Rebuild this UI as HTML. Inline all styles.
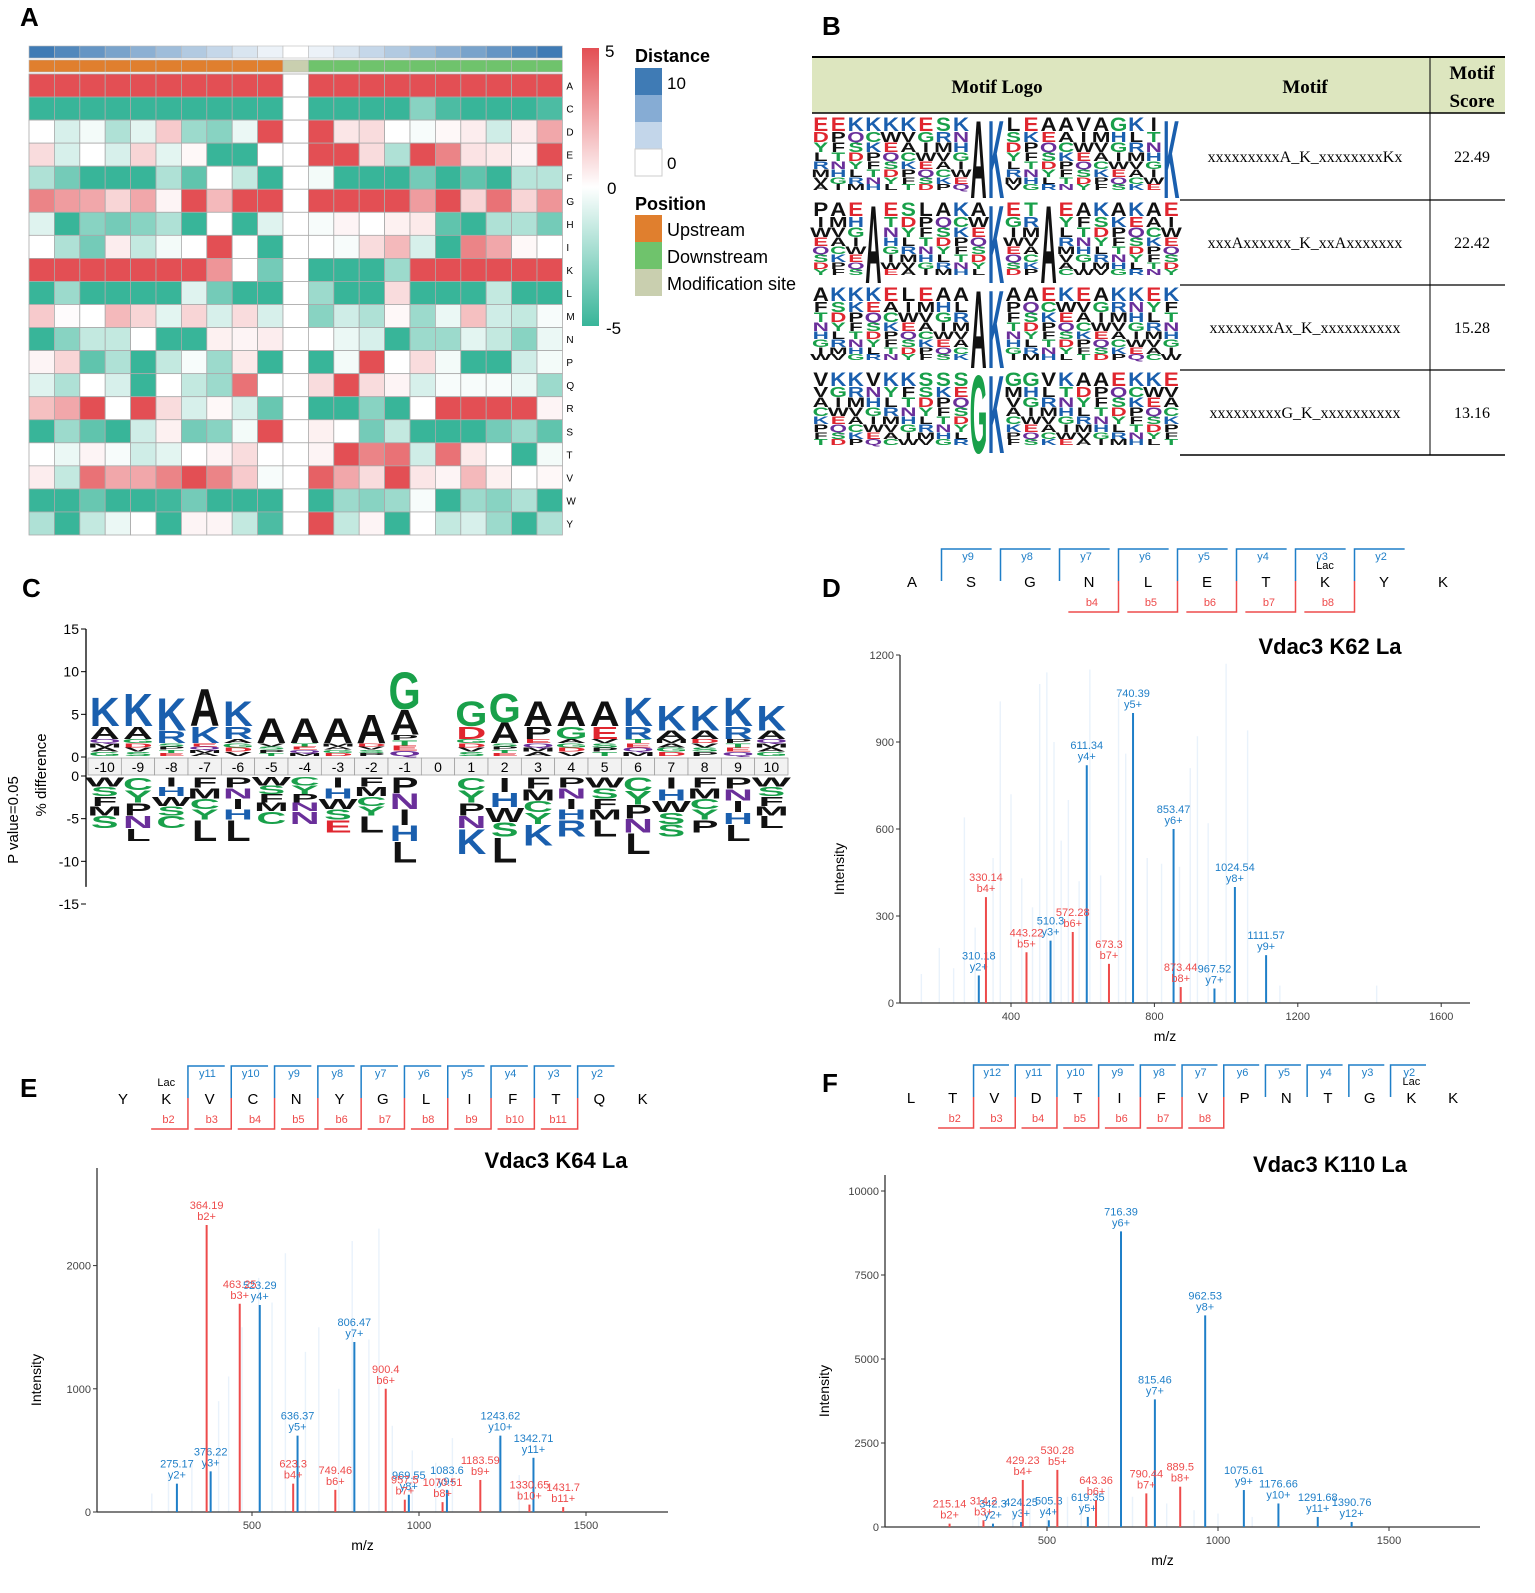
<!DOCTYPE html>
<html><head><meta charset="utf-8"><style>
html,body{margin:0;padding:0;background:#fff;}
svg{display:block;font-family:"Liberation Sans",sans-serif;}
.srf{font-family:"Liberation Serif",serif;}
</style></head><body>
<svg id="fig" width="1535" height="1593" viewBox="0 0 1535 1593" xmlns="http://www.w3.org/2000/svg">
<g font-weight="bold" font-size="26">
<text x="20" y="26">A</text>
<text x="822" y="35">B</text>
<text x="22" y="597">C</text>
<text x="822" y="597">D</text>
<text x="20" y="1097">E</text>
<text x="822" y="1092">F</text>
</g>
<g id="heat"></g>
<g id="heatlegend">
<defs><linearGradient id="cg" x1="0" y1="0" x2="0" y2="1"><stop offset="0" stop-color="#e34f54"/><stop offset="0.5" stop-color="#ffffff"/><stop offset="1" stop-color="#38b599"/></linearGradient></defs>
<rect x="582" y="48" width="17" height="278" fill="url(#cg)"/>
<text x="605" y="57" font-size="17">5</text>
<text x="607" y="194" font-size="17">0</text>
<text x="606" y="334" font-size="17">-5</text>
<text x="635" y="62" font-size="18" font-weight="bold">Distance</text>
<rect x="635" y="68" width="27" height="27" fill="#3f7bb5"/><rect x="635" y="95" width="27" height="27" fill="#86acd4"/><rect x="635" y="122" width="27" height="27" fill="#c3d6ea"/><rect x="635" y="149" width="27" height="27" fill="#fff" stroke="#ccc"/>
<text x="667" y="89" font-size="17">10</text>
<text x="667" y="169" font-size="17">0</text>
<text x="635" y="210" font-size="18" font-weight="bold">Position</text>
<rect x="635" y="215" width="27" height="27" fill="#e07f2e"/>
<rect x="635" y="242" width="27" height="27" fill="#6fc36c"/>
<rect x="635" y="269" width="27" height="27" fill="#c9cfaf"/>
<text x="667" y="236" font-size="18">Upstream</text>
<text x="667" y="263" font-size="18">Downstream</text>
<text x="667" y="290" font-size="18">Modification site</text>
</g>
<g id="tableB">
<rect x="812" y="57" width="693" height="56" fill="#dde6bf"/>
<line x1="812" y1="57" x2="1505" y2="57" stroke="#000" stroke-width="2"/>
<line x1="812" y1="113" x2="1505" y2="113" stroke="#000" stroke-width="1.5"/>
<line x1="1180" y1="200" x2="1505" y2="200" stroke="#000" stroke-width="1.2"/>
<line x1="1180" y1="285" x2="1505" y2="285" stroke="#000" stroke-width="1.2"/>
<line x1="1180" y1="370" x2="1505" y2="370" stroke="#000" stroke-width="1.2"/>
<line x1="1180" y1="455" x2="1505" y2="455" stroke="#000" stroke-width="1.5"/>
<line x1="1430" y1="57" x2="1430" y2="455" stroke="#000" stroke-width="1"/>
<g class="srf" font-weight="bold" font-size="19" text-anchor="middle">
<text x="997" y="93">Motif Logo</text>
<text x="1305" y="93">Motif</text>
<text x="1472" y="79">Motif</text>
<text x="1472" y="107">Score</text>
</g>
<g class="srf" font-size="16" text-anchor="middle">
<text x="1305" y="162">xxxxxxxxxA_K_xxxxxxxxKx</text>
<text x="1472" y="162">22.49</text>
<text x="1305" y="248">xxxAxxxxxx_K_xxAxxxxxxx</text>
<text x="1472" y="248">22.42</text>
<text x="1305" y="333">xxxxxxxxAx_K_xxxxxxxxxx</text>
<text x="1472" y="333">15.28</text>
<text x="1305" y="418">xxxxxxxxxG_K_xxxxxxxxxx</text>
<text x="1472" y="418">13.16</text>
</g>
<g id="logosB"></g>
</g>
<g id="panelC"></g>
<g id="panelD"></g>
<g id="panelE"></g>
<g id="panelF"></g>
</svg>
<script>
const NS="http://www.w3.org/2000/svg";
// ---------- heatmap data ----------
const heatRows=["A","C","D","E","F","G","H","I","K","L","M","N","P","Q","R","S","T","V","W","Y"];
const distanceVals=[10,9,8,7,6,5,4,3,2,1,0,1,2,3,4,5,6,7,8,9,10];
const positionVals=["U","U","U","U","U","U","U","U","U","U","M","D","D","D","D","D","D","D","D","D","D"];
const heatA=[5,5,5,5,5,5,5,5,5,5,0,5,5,5,5,5,5,5,5,5,5];
const heatC=[-5,-5,-5,-5,-5,-5,-5,-5,-5,-5,0,-5,-5,-5,-5,-3,-4.5,-5,-5,-5,-4.5];
const heatD=[0,-1,-0.3,-2,-0.7,1.5,-2.5,-3,-0.5,5,0,5,0.7,1,0,-0.2,0.2,0.5,-1.2,0.5,2.5];
const heatE=[1,-1,0,-1,1.2,-0.7,0.2,-5,-5,0,0,5,5,1,-2,5,3.5,0.8,0.6,0.3,5];
const heatF=[-2,-3.5,-5,-5,-5,-2,-4,0,-1.5,-5,0,-0.3,-5,-5,-5,-3.5,-5,-4,-5,-1.8,-1.8];
const heatG=[3.5,2.8,2.5,1.2,2.5,0.3,5,2,5,5,0,5,5,5,5,2.8,5,1.2,4,1.2,3];
const heatH=[-0.8,-5,-3,-3.5,-3,-2,-5,0,-5,-0.8,0,-0.2,0.3,0,0.4,0.6,-4,-5,-2,-2,-3.5];
const heatI=[0,-2,-3.5,0.5,-1.5,-0.3,0,5,0,-5,0,0,-0.2,1,2,-1,-5,3.5,2.5,0.2,0];
const heatK=[5,5,5,5,5,5,5,3,0,-3.5,0,-5,-5,-5,-2.5,5,5,5,5,5,5];
const heatL=[-5,-2.5,-5,-5,-5,-5,-0.8,-3.5,-5,-5,0,-2.5,-5,-5,1,-5,-5,-5,-1.5,-5,-5];
const heatM=[1.5,0.1,0,2,1.2,-0.7,1.2,-1,1,-1,0,-3,-1.2,-2,0.2,-2.5,-0.5,1.8,-1.2,-1.5,-0.2];
const heatN=[-5,-3,-1.5,-1.5,0,-5,-5,0.4,0.3,0.5,0,0,-0.5,-1,-5,-2.5,-2.5,-0.7,-1.5,-3,-0.5];
const heatP=[0.3,1.2,-4,-2,-5,-1.5,-0.2,-2.5,0.6,-5,0,-5,-0.3,5,0,1,-0.3,-5,-5,-1.2,-0.3];
const heatQ=[-0.8,-2,0,-1,-5,0,-1.5,-2.5,4,0,0,1,5,1,0.3,-1,-0.2,-0.2,-0.2,-0.5,-2.5];
const heatR=[1.8,2.5,5,0,5,1,-1,0.2,-1,-3.8,0,-5,-5,-3,-5,0,5,5,5,5,0.3];
const heatS=[-5,-2.5,-4,-5,-1.2,0.4,-3.5,-3,-0.3,5,0,0.4,0,-3.5,-1.5,-5,-5,-5,-3.5,-2.5,-4];
const heatT=[0,-0.5,0.3,-0.2,-1.2,-0.7,0,0.3,1,0,0,0.3,5,3.5,4,-1.2,4,0.6,0,-5,-0.3];
const heatV=[0.5,-1.5,4,2.5,2.5,3.5,5,3.5,1.5,-0.2,0,4.5,2.5,1,5,0.7,0.3,2,0.4,0,0.2];
const heatW=[-5,-5,-3.8,-5,-5,-4.8,-3.5,-5,-5,-5,0,-5,-2.5,-3,-2.5,-0.2,-5,-2.5,-3,-2,-5];
const heatY=[-2,-5,-1.5,-0.5,0,-5,0.3,0.3,-1.5,-4.5,0,5,-1.5,0.3,-5,0,-1.5,-1,-2.5,-5,-2];
const heatVals=[heatA,heatC,heatD,heatE,heatF,heatG,heatH,heatI,heatK,heatL,heatM,heatN,heatP,heatQ,heatR,heatS,heatT,heatV,heatW,heatY];

// ---------- panel C data ----------
const cPositions=["-10","-9","-8","-7","-6","-5","-4","-3","-2","-1","0","1","2","3","4","5","6","7","8","9","10"];
const cUpTop=["K","K","K","A","K","A","A","A","A","G","","G","G","A","A","A","K","K","K","K","K"];
const cUpTopH=[3.5,4,4,4.5,3,3,3,3,3.5,4.5,0,3,3.5,3,3,3,3.5,3,3,3.5,3];
const cUpSecond=["A","A","R","K","R","","","","","A","","D","A","P","G","E","R","A","A","R","A"];
const cUpSecondH=[1.5,1.5,1.5,2,1.5,0,0,0,0,3,0,1.5,2.5,1.5,1.5,1.5,1.5,1,1,1.5,1];
const cUpFill=[2,2,1.5,1.5,2,1.5,1.5,1.5,1.5,2.5,0,2,1.5,2,2,2,2,2,2,2,2];
const cLoBottom=["S","L","C","L","L","C","N","E","L","L","","K","L","K","R","L","L","S","P","L","L"];
const cLoBottomH=[1.5,1.5,1.5,2.5,2.5,1.5,1.5,1.5,2,2.5,0,3,3,2.5,2,2,2.5,1.5,1.5,2,1.5];
const cLoDepth=[6,7.5,6,7.5,7.5,5.5,5.5,6.5,6.5,10,0,9,10,8,7,7,9,7,6.5,7.5,6];

// ---------- spectra data ----------
const dMz=[310.18,510.3,611.34,740.39,853.47,967.52,1024.54,1111.57,330.14,443.22,572.28,673.3,873.44];
const dInt=[95,215,820,1000,600,50,400,165,365,175,245,135,55];
const dLab1=["310.18","510.3","611.34","740.39","853.47","967.52","1024.54","1111.57","330.14","443.22","572.28","673.3","873.44"];
const dLab2=["y2+","y3+","y4+","y5+","y6+","y7+","y8+","y9+","b4+","b5+","b6+","b7+","b8+"];
const dType=["y","y","y","y","y","y","y","y","b","b","b","b","b"];
const dNoiseMz=[150,200,240,270,300,350,370,400,430,460,480,500,520,540,560,590,620,650,700,720,780,820,870,900,920,950,1000,1060,1150,1420];
const dNoiseInt=[100,190,120,640,260,500,1040,720,430,330,1100,1140,900,560,700,420,1150,440,1050,860,500,480,470,810,920,620,1170,940,60,60];

const eMz=[275.17,376.22,523.29,636.37,806.47,969.55,1083.6,1243.62,1342.71,364.19,463.25,623.3,749.46,900.4,957.5,1070.51,1183.59,1330.65,1431.7];
const eInt=[230,330,1680,620,1380,140,180,620,440,2330,1690,230,180,1000,100,80,260,60,40];
const eLab1=["275.17","376.22","523.29","636.37","806.47","969.55","1083.6","1243.62","1342.71","364.19","463.25","623.3","749.46","900.4","957.5","1070.51","1183.59","1330.65","1431.7"];
const eLab2=["y2+","y3+","y4+","y5+","y7+","y8+","y9+","y10+","y11+","b2+","b3+","b4+","b6+","b6+","b7+","b8+","b9+","b10+","b11+"];
const eType=["y","y","y","y","y","y","y","y","y","b","b","b","b","b","b","b","b","b","b"];
const eNoiseMz=[200,250,320,400,430,470,520,560,600,660,700,760,800,850,880,920,980,1050,1100,1240,1300];
const eNoiseInt=[150,300,400,900,1100,1500,1900,1700,2100,1300,1500,1000,2200,1400,2300,700,500,400,600,600,300];

const fMz=[716.39,962.53,815.46,1075.61,1176.66,1291.68,1390.76,505.3,619.35,342,424.25,215.14,314.2,429.23,530.28,643.36,790.44,889.5];
const fInt=[8800,6300,3800,1100,700,300,150,200,300,100,150,100,200,1400,1700,800,1000,1200];
const fLab1=["716.39","962.53","815.46","1075.61","1176.66","1291.68","1390.76","505.3","619.35","342.3","424.25","215.14","314.2","429.23","530.28","643.36","790.44","889.5"];
const fLab2=["y6+","y8+","y7+","y9+","y10+","y11+","y12+","y4+","y5+","y2+","y3+","b2+","b3+","b4+","b5+","b6+","b7+","b8+"];
const fType=["y","y","y","y","y","y","y","y","y","y","y","b","b","b","b","b","b","b"];
const fNoiseMz=[300,400,450,500,560,600,680,750,850,930,1000,1100];
const fNoiseInt=[300,500,700,600,900,800,1200,900,700,500,400,300];

function mk(tag,attrs,parent,txt){const e=document.createElementNS(NS,tag);for(const k in attrs)e.setAttribute(k,attrs[k]);if(txt!==undefined)e.textContent=txt;parent.appendChild(e);return e;}

// ---------- heatmap ----------
(function(){
const g=document.getElementById('heat');
const x0=29,cw=25.4,y0=74,rh=23.05;
function heatColor(v){
  const t=Math.min(1,Math.abs(v)/5);
  const c=v>=0?[227,79,84]:[56,181,153];
  const r=Math.round(255+(c[0]-255)*t),gg=Math.round(255+(c[1]-255)*t),b=Math.round(255+(c[2]-255)*t);
  return `rgb(${r},${gg},${b})`;
}
function distColor(d){const t=d/10;return `rgb(${Math.round(255+(63-255)*t)},${Math.round(255+(123-255)*t)},${Math.round(255+(181-255)*t)})`;}
distanceVals.forEach((d,i)=>{const r=mk('rect',{x:x0+i*cw,y:46,width:cw,height:12,fill:distColor(d),stroke:'#bbb','stroke-width':0.6},g);

});
positionVals.forEach((p,i)=>{const r=mk('rect',{x:x0+i*cw,y:60,width:cw,height:12,fill:p==='U'?'#e07f2e':p==='D'?'#6fc36c':'#c9cfaf',stroke:'#bbb','stroke-width':0.6},g);

});
heatVals.forEach((row,ri)=>{
  row.forEach((v,ci)=>{const r=mk('rect',{x:x0+ci*cw,y:y0+ri*rh,width:cw,height:rh,fill:heatColor(v),stroke:'#aaa','stroke-width':0.8},g);
  
  });
  const t=mk('text',{x:x0+21*cw+4,y:y0+ri*rh+rh/2+4,'font-size':10},g,heatRows[ri]);
  
  
});
})();

// ---------- letter helpers ----------
const LCOL={K:'#1a5fae',R:'#1a5fae',H:'#1a5fae',D:'#e0262f',E:'#e0262f',G:'#19a04a',S:'#19a04a',T:'#19a04a',Y:'#19a04a',C:'#19a04a',N:'#6a2f9a',Q:'#6a2f9a'};
function letter(parent,ch,cx,yb,w,h){
  if(h<=0.5)return;
  const t=mk('text',{transform:`translate(${cx},${yb}) scale(${w/7.4},${h/7.3})`,'text-anchor':'middle','font-size':10,'font-weight':'bold',fill:LCOL[ch]||'#111'},parent,ch);
  
  
  return t;
}

// ---------- panel B logos ----------
(function(){
const g=document.getElementById('logosB');
const rows=["EEKKKKESKAKLEAAVAGKIK","PAEAESLAKAKETAEAKAKAE","AKKKELEAAAKAAEKEAKKEK","VKKVKKSSSGKGGVKAAEKKE"];
const big=[[9,10,20],[3,10,13],[9,10],[9,10]];
const filler="SLVKTGEDRAPNIQYMCFHW";
const y0s=[115,200,285,370];
rows.forEach((s,ri)=>{
  const top=y0s[ri]+2,bot=y0s[ri]+83,cw=368/21;
  for(let c=0;c<21;c++){
    const cx=812+cw*c+cw/2;
    if(big[ri].includes(c)){letter(g,s[c],cx,bot,cw*0.95,bot-top);continue;}
    let y=top;const hs=[14,11,10,9,8,8,7,6];
    letter(g,s[c],cx,y+hs[0],cw*0.95,hs[0]);y+=hs[0];
    for(let k=1;k<hs.length&&y<bot;k++){const ch=filler[(c*3+k*7+ri*5)%20];const h=Math.min(hs[k],bot-y);letter(g,ch,cx,y+h,cw*0.95,h);y+=h;}
  }
});
})();

// ---------- panel C ----------
(function(){
const g=document.getElementById('panelC');
const ax=86,upBase=757,loBase=776,pu=128/15;
const yUp=v=>upBase-v*pu, yLo=v=>loBase+v*pu;
mk('line',{x1:ax,y1:yUp(15),x2:ax,y2:yLo(13),stroke:'#000','stroke-width':1.3},g);
[15,10,5,0].forEach(v=>{mk('line',{x1:ax-5,y1:yUp(v),x2:ax,y2:yUp(v),stroke:'#000'},g);const t=mk('text',{x:ax-7,y:yUp(v)+5,'text-anchor':'end','font-size':14},g,String(v));});
[0,5,10,13].forEach((v,i)=>{const lab=["0","-5","-10","-15"][i];mk('line',{x1:ax-5,y1:yLo(v*(i===3?15/13:1)),x2:ax,y2:yLo(v*(i===3?15/13:1)),stroke:'#000'},g);const t=mk('text',{x:ax-7,y:yLo(v*(i===3?15/13:1))+5,'text-anchor':'end','font-size':14},g,lab);});
const t1=mk('text',{transform:'translate(18,820) rotate(-90)','font-size':15,'text-anchor':'middle'},g,'P value=0.05');
const t2=mk('text',{transform:'translate(46,775) rotate(-90)','font-size':15,'text-anchor':'middle'},g,'% difference');
const x0=88,cw=700/21;
const filler="GSEAVTMDPQ";const lofill="WNCSIYFHPM";
cPositions.forEach((p,i)=>{
  const cx=x0+cw*i+cw/2;
  const b=mk('rect',{x:x0+cw*i,y:upBase+1,width:cw,height:loBase-upBase-2,fill:'#f2f2f2',stroke:'#999','stroke-width':0.7},g);
  
  const t=mk('text',{x:cx,y:upBase+15,'text-anchor':'middle','font-size':14},g,p);
  if(!cUpTop[i])return;
  let y=upBase-1;
  const fillH=cUpFill[i]*pu;const nf=4;
  for(let k=0;k<nf;k++){const h=fillH/nf;letter(g,filler[(i+k*3)%10],cx,y,cw*0.92,h);y-=h;}
  if(cUpSecondH[i]>0){const h=cUpSecondH[i]*pu;letter(g,cUpSecond[i],cx,y,cw*0.92,h);y-=h;}
  const h=cUpTopH[i]*pu;letter(g,cUpTop[i],cx,y,cw*0.92,h);
  let yl=loBase+1;const depth=cLoDepth[i]*pu,bh=cLoBottomH[i]*pu;const rem=depth-bh;const nl=4;
  for(let k=0;k<nl;k++){const hh=rem/nl;letter(g,lofill[(i*2+k*3)%10],cx,yl+hh,cw*0.92,hh);yl+=hh;}
  letter(g,cLoBottom[i],cx,yl+bh,cw*0.92,bh);
});
})();

// ---------- spectra ----------
function spectrum(id,cfg){
  const g=document.getElementById(id);
  const X=v=>cfg.xA+(v-cfg.xv0)*cfg.xs, Y=v=>cfg.y0-v*cfg.ys;
  cfg.nMz.forEach((m,i)=>{const l=mk('line',{x1:X(m),y1:cfg.y0,x2:X(m),y2:Y(cfg.nInt[i]),stroke:'#e9f2fb','stroke-width':1.4},g);});
  mk('line',{x1:cfg.ax,y1:cfg.yTop,x2:cfg.ax,y2:cfg.y0,stroke:'#333','stroke-width':1.3},g);
  mk('line',{x1:cfg.ax,y1:cfg.y0,x2:cfg.xEnd,y2:cfg.y0,stroke:'#333','stroke-width':1.3},g);
  cfg.yt.forEach(v=>{mk('line',{x1:cfg.ax-4,y1:Y(v),x2:cfg.ax,y2:Y(v),stroke:'#333'},g);const t=mk('text',{x:cfg.ax-6,y:Y(v)+4,'text-anchor':'end','font-size':11,fill:'#444'},g,String(v));});
  cfg.xt.forEach(v=>{mk('line',{x1:X(v),y1:cfg.y0,x2:X(v),y2:cfg.y0+4,stroke:'#333'},g);const t=mk('text',{x:X(v),y:cfg.y0+17,'text-anchor':'middle','font-size':11,fill:'#444'},g,String(v));});
  const yt=mk('text',{transform:`translate(${cfg.ax-56},${(cfg.yTop+cfg.y0)/2+40}) rotate(-90)`,'text-anchor':'middle','font-size':14},g,'Intensity');
  const xt=mk('text',{x:(cfg.ax+cfg.xEnd)/2-20,y:cfg.y0+38,'text-anchor':'middle','font-size':14},g,'m/z');
  const tt=mk('text',{x:cfg.titleX,y:cfg.titleY,'text-anchor':'middle','font-size':22,'font-weight':'bold'},g,cfg.title);
  cfg.mz.forEach((m,i)=>{
    const col=cfg.type[i]==='y'?'#1f7fc8':'#ee4b4b';
    const l=mk('line',{x1:X(m),y1:cfg.y0,x2:X(m),y2:Y(cfg.int[i]),stroke:col,'stroke-width':2},g);
    
    const a=mk('text',{x:X(m),y:Y(cfg.int[i])-16,'text-anchor':'middle','font-size':11,fill:col},g,cfg.lab1[i]);
    
    const b=mk('text',{x:X(m),y:Y(cfg.int[i])-5,'text-anchor':'middle','font-size':11,fill:col},g,cfg.lab2[i]);
    
  });
  const P=cfg.pep;
  P.seq.split('').forEach((c,i)=>{const t=mk('text',{x:P.x0+i*P.sp,y:P.y+6,'text-anchor':'middle','font-size':15},g,c);});
  const lac=mk('text',{x:P.x0+P.lac*P.sp,y:P.y-12,'text-anchor':'middle','font-size':11},g,'Lac');
  P.yGaps.forEach((gi,k)=>{const gx=P.x0+(gi-0.5)*P.sp;
    mk('polyline',{points:`${gx},${P.y} ${gx},${P.y-32} ${gx+P.sp*0.85},${P.y-32}`,fill:'none',stroke:'#1f7fc8','stroke-width':1.5},g);
    const t=mk('text',{x:gx+P.sp*0.45,y:P.y-21,'text-anchor':'middle','font-size':11,fill:'#1f7fc8'},g,'y'+(P.yStart-k));});
  P.bGaps.forEach((gi,k)=>{const gx=P.x0+(gi-0.5)*P.sp;
    mk('polyline',{points:`${gx},${P.y} ${gx},${P.y+31} ${gx-P.sp*0.85},${P.y+31}`,fill:'none',stroke:'#ee4b4b','stroke-width':1.5},g);
    const t=mk('text',{x:gx-P.sp*0.45,y:P.y+25,'text-anchor':'middle','font-size':11,fill:'#ee4b4b'},g,'b'+(P.bStart+k));});
}
spectrum('panelD',{xA:1011,xv0:400,xs:0.3585,y0:1003,ys:0.29,ax:900,yTop:655,xEnd:1470,yt:[0,300,600,900,1200],xt:[400,800,1200,1600],
 mz:dMz,int:dInt,lab1:dLab1,lab2:dLab2,type:dType,nMz:dNoiseMz,nInt:dNoiseInt,title:'Vdac3 K62 La',titleX:1330,titleY:654,
 pep:{seq:'ASGNLETKYK',x0:912,sp:59,y:581,lac:7,yGaps:[1,2,3,4,5,6,7,8],yStart:9,bGaps:[4,5,6,7,8],bStart:4}});
spectrum('panelE',{xA:252,xv0:500,xs:0.334,y0:1512,ys:0.1232,ax:97,yTop:1168,xEnd:668,yt:[0,1000,2000],xt:[500,1000,1500],
 mz:eMz,int:eInt,lab1:eLab1,lab2:eLab2,type:eType,nMz:eNoiseMz,nInt:eNoiseInt,title:'Vdac3 K64 La',titleX:556,titleY:1168,
 pep:{seq:'YKVCNYGLIFTQK',x0:123,sp:43.3,y:1098,lac:1,yGaps:[2,3,4,5,6,7,8,9,10,11],yStart:11,bGaps:[2,3,4,5,6,7,8,9,10,11],bStart:2}});
spectrum('panelF',{xA:1047,xv0:500,xs:0.342,y0:1527,ys:0.0336,ax:885,yTop:1175,xEnd:1480,yt:[0,2500,5000,7500,10000],xt:[500,1000,1500],
 mz:fMz,int:fInt,lab1:fLab1,lab2:fLab2,type:fType,nMz:fNoiseMz,nInt:fNoiseInt,title:'Vdac3 K110 La',titleX:1330,titleY:1172,
 pep:{seq:'LTVDTIFVPNTGKK',x0:911,sp:41.7,y:1097,lac:12,yGaps:[2,3,4,5,6,7,8,9,10,11,12],yStart:12,bGaps:[2,3,4,5,6,7,8],bStart:2}});
</script>
</body></html>
